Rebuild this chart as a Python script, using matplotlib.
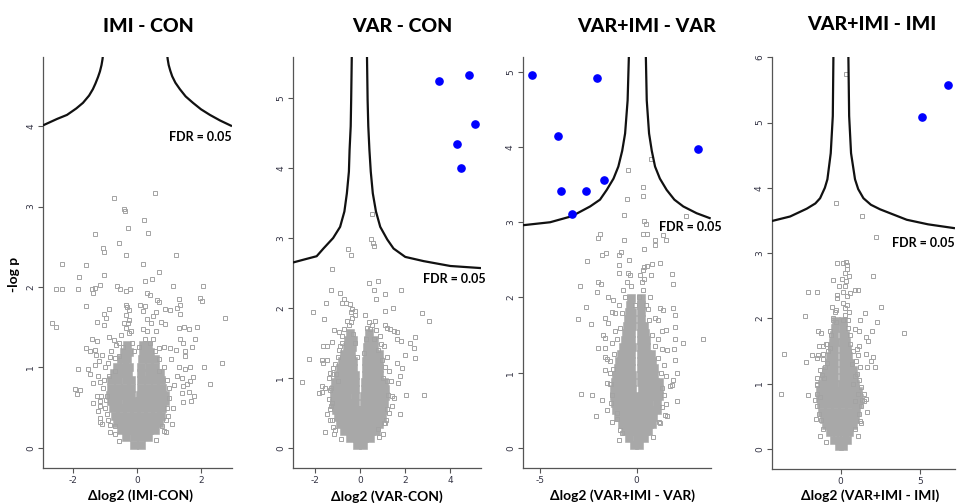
import numpy as np
import matplotlib
matplotlib.use("Agg")
import matplotlib.pyplot as plt

W, H = 957, 503

# ---------------- data ----------------
titles = ["IMI - CON", "VAR - CON", "VAR+IMI - VAR", "VAR+IMI - IMI"]
xlabels = ["Δlog2 (IMI-CON)", "Δlog2 (VAR-CON)", "Δlog2 (VAR+IMI - VAR)", "Δlog2 (VAR+IMI - IMI)"]
xlims = [(-2.94, 2.97), (-2.98, 5.36), (-5.9, 3.83), (-4.35, 7.2)]
ylims = [(-0.25, 4.86), (-0.29, 5.59), (-0.27, 5.2), (-0.31, 6.0)]
xticks = [[-2, 0, 2], [-2, 0, 2, 4], [-5, 0], [0, 5]]
yticks = [[0, 1, 2, 3, 4], [0, 1, 2, 3, 4, 5], [0, 1, 2, 3, 4, 5], [0, 1, 2, 3, 4, 5, 6]]

# scattered (non-significant) proteins
p1_pts = [(-0.72, 3.11), (0.56, 3.17), (-0.41, 2.97), (-0.375, 2.94), (0.22, 2.83), (-0.28, 2.73), (0.34, 2.67),
          (-1.31, 2.66), (-0.56, 2.55), (-1.06, 2.48), (-1.04, 2.44), (-0.36, 2.40), (1.23, 2.40), (-2.34, 2.29),
          (-1.61, 2.28), (0.19, 2.29), (0.68, 2.19), (-1.04, 2.15), (-1.82, 2.12), (0.47, 2.10), (0.26, 2.07),
          (-2.52, 1.98), (-2.34, 1.98), (-1.85, 1.98), (-1.41, 1.98), (-1.30, 1.99), (-1.15, 2.03), (-0.62, 2.01),
          (-0.52, 1.98), (-0.33, 1.95), (-0.23, 1.98), (-1.375, 1.92), (1.125, 2.01), (2.06, 2.01), (0.31, 1.92),
          (0.40, 1.90), (1.98, 1.86), (2.03, 1.83), (0.625, 1.84), (0.70, 1.81), (1.32, 1.85), (1.35, 1.78),
          (1.25, 1.74), (-0.33, 1.78), (-0.31, 1.75), (-0.26, 1.71), (0.10, 1.78), (0.24, 1.77), (-1.61, 1.77),
          (-0.885, 1.73), (-1.04, 1.66), (-0.96, 1.62), (0.885, 1.73), (1.04, 1.72), (1.35, 1.66), (2.76, 1.62),
          (0.60, 1.685), (0.50, 1.64), (-2.66, 1.55), (-2.52, 1.50), (-1.25, 1.57), (-1.04, 1.53), (-0.26, 1.59),
          (-0.28, 1.55), (0.76, 1.56), (0.86, 1.545), (1.30, 1.49), (1.46, 1.50), (1.61, 1.48), (1.875, 1.50),
          (-0.36, 1.49), (-0.26, 1.43), (0.19, 1.48), (0.31, 1.45), (1.35, 1.35), (1.44, 1.30), (-1.41, 1.35),
          (-1.25, 1.325), (-0.885, 1.38), (-0.73, 1.345), (-1.61, 1.24), (-1.46, 1.21), (-1.30, 1.22), (1.04, 1.24),
          (1.23, 1.22), (1.72, 1.25), (1.80, 1.35), (0.68, 1.24), (0.83, 1.25), (1.51, 1.20), (1.51, 1.14),
          (-1.27, 1.15), (-1.20, 1.08), (-1.30, 1.035), (-0.83, 1.13), (-0.68, 1.12), (-0.57, 1.14), (-1.85, 0.98),
          (-1.54, 0.98), (-1.48, 0.92), (-1.22, 0.90), (-0.885, 0.89), (1.30, 1.006), (1.51, 0.98), (1.65, 1.006),
          (2.08, 1.006), (2.66, 1.05), (1.25, 0.90), (1.41, 0.87), (1.75, 0.88), (-1.375, 0.81), (-1.15, 0.82),
          (-1.93, 0.73), (-1.77, 0.72), (-1.875, 0.675), (-1.25, 0.65), (-1.15, 0.58), (-0.94, 0.64), (1.43, 0.77),
          (1.56, 0.79), (1.67, 0.83), (2.29, 0.79), (1.41, 0.68), (1.61, 0.69), (1.77, 0.65), (1.43, 0.57),
          (1.69, 0.58), (-1.375, 0.56), (-1.15, 0.52), (-1.23, 0.455), (-1.17, 0.37), (-1.15, 0.32), (-0.83, 0.29),
          (-0.68, 0.27), (-0.68, 0.17), (0.78, 0.27), (0.83, 0.21), (-1.0, 1.0), (-1.05, 0.75), (-1.0, 0.5),
          (0.95, 0.5), (1.0, 0.75), (1.05, 1.1), (-0.9, 0.35), (0.9, 0.35), (-0.55, 1.3), (0.5, 1.35),
          (-0.45, 1.25), (0.6, 1.45),
          (-0.95, 0.42), (-0.98, 0.6), (-1.02, 0.85), (-0.92, 1.05), (-0.8, 1.2), (-0.65, 1.28), (-0.5, 1.4),
          (-0.42, 1.55), (-0.35, 1.65), (-0.2, 1.45), (-0.15, 1.3), (0.25, 1.35), (0.4, 1.3), (0.55, 1.2),
          (0.7, 1.1), (0.85, 1.0), (0.95, 0.85), (1.0, 0.62), (0.98, 0.4), (0.9, 0.2), (0.6, 0.1), (-0.55, 0.08),
          (-0.85, 0.2), (-1.08, 0.3), (1.1, 0.3), (1.12, 0.5), (-1.12, 0.65), (0.3, 1.6), (0.45, 1.55),
          (0.2, 1.7), (-0.1, 1.2), (0.05, 1.25), (-0.7, 0.95), (0.7, 0.95), (1.15, 0.78), (-1.1, 1.15)]

p2_pts = [(0.52, 3.35), (0.49, 2.98), (0.56, 2.93), (0.62, 2.89), (-0.52, 2.85), (-0.41, 2.76), (-1.26, 2.56),
          (0.41, 2.35), (0.81, 2.38), (-1.29, 2.25), (-0.89, 2.22), (0.62, 2.25), (1.08, 2.2), (0.71, 2.13),
          (1.81, 2.25), (-0.70, 2.13), (-0.81, 2.07), (-0.62, 2.07), (-0.47, 2.06), (-1.51, 2.07), (-2.10, 1.94),
          (-0.37, 1.98), (-0.25, 1.96), (-0.25, 1.90), (-0.4, 1.94), (1.11, 1.96), (1.45, 2.0), (2.74, 1.93),
          (3.04, 1.81), (-1.60, 1.84), (-0.59, 1.82), (-0.41, 1.80), (0.64, 1.81), (0.52, 1.76), (1.11, 1.76),
          (1.19, 1.72), (1.33, 1.70), (1.51, 1.67), (1.63, 1.65), (0.30, 1.71), (0.44, 1.70), (0.71, 1.69),
          (-1.16, 1.68), (-0.96, 1.65), (-0.30, 1.63), (2.41, 1.59), (2.19, 1.5), (2.37, 1.43), (-1.26, 1.51),
          (-1.63, 1.45), (-1.48, 1.46), (1.63, 1.56), (1.81, 1.52), (0.92, 1.48), (1.04, 1.45), (-2.25, 1.27),
          (-1.70, 1.26), (-1.63, 1.21), (-1.45, 1.26), (2.0, 1.32), (2.41, 1.29), (1.63, 1.21), (1.85, 1.14),
          (-1.19, 1.14), (-1.33, 1.07), (-2.59, 0.94), (-1.38, 1.0), (-1.07, 1.05), (1.78, 1.02), (1.70, 0.93),
          (-1.70, 0.88), (-1.56, 0.86), (-1.36, 0.83), (-1.81, 0.78), (-1.70, 0.80), (2.04, 0.76), (2.84, 0.76),
          (1.41, 0.74), (1.51, 0.71), (-1.26, 0.64), (-1.33, 0.56), (1.41, 0.60), (1.78, 0.48), (-1.48, 0.48),
          (-1.33, 0.40), (1.04, 0.36), (1.16, 0.40), (-1.56, 0.22), (-1.16, 0.19), (0.81, 0.27), (-1.0, 1.3),
          (-0.9, 1.45), (1.2, 1.3), (1.3, 1.1), (1.35, 0.95), (-1.4, 0.7), (1.3, 0.5), (-0.8, 1.6), (0.9, 1.6),
          (-1.2, 0.3), (1.0, 0.2),
          (-1.25, 0.4), (-1.3, 0.6), (-1.3, 0.85), (-1.2, 1.05), (-1.1, 1.2), (-0.95, 1.4), (-0.8, 1.5),
          (-0.7, 1.7), (-0.5, 1.75), (-0.25, 1.5), (-0.15, 1.3), (0.15, 1.35), (0.25, 1.55), (0.4, 1.8),
          (0.6, 1.55), (0.8, 1.4), (0.95, 1.25), (1.1, 1.15), (1.2, 0.95), (1.25, 0.75), (1.2, 0.55), (1.1, 0.35),
          (0.85, 0.15), (-0.85, 0.12), (-1.1, 0.25), (0.2, 1.9), (-0.35, 1.85), (1.0, 1.0), (-1.0, 0.95)]

p3_pts = [(0.72, 3.84), (-0.47, 3.69), (0.34, 3.47), (0.34, 3.35), (-0.52, 3.31), (-0.66, 3.09), (0.38, 3.01),
          (0.48, 2.98), (2.55, 3.08), (0.34, 2.85), (0.52, 2.85), (-1.9, 2.85), (-2.02, 2.79), (-0.66, 2.77),
          (0.95, 2.77), (1.38, 2.83), (1.52, 2.76), (0.95, 2.70), (0.38, 2.65), (-2.55, 2.49), (-1.81, 2.57),
          (-1.59, 2.59), (-0.90, 2.57), (-0.83, 2.61), (-0.90, 2.43), (0.52, 2.42), (0.78, 2.44), (1.21, 2.46),
          (-0.90, 2.32), (-0.47, 2.33), (-0.34, 2.30), (0.31, 2.36), (0.72, 2.30), (1.81, 2.31), (1.86, 2.18),
          (-1.98, 2.2), (-1.84, 2.18), (-2.93, 2.15), (-2.07, 2.07), (0.38, 2.24), (0.26, 2.21), (-1.47, 2.0),
          (-1.21, 1.97), (-2.62, 1.87), (-3.02, 1.72), (-2.36, 1.65), (-1.29, 1.81), (-1.12, 1.79), (1.21, 1.86),
          (1.38, 1.84), (1.86, 1.86), (1.98, 1.77), (-1.64, 1.73), (-1.47, 1.66), (0.95, 1.73), (1.12, 1.70),
          (1.98, 1.61), (1.52, 1.57), (1.29, 1.55), (-1.76, 1.5), (-1.64, 1.46), (3.41, 1.45), (2.41, 1.40),
          (1.98, 1.45), (-1.98, 1.33), (-1.64, 1.33), (1.29, 1.31), (1.55, 1.30), (1.93, 1.31), (-1.64, 1.21),
          (-1.55, 1.18), (1.98, 1.17), (-1.64, 1.03), (-1.38, 1.0), (2.07, 1.0), (-1.55, 0.87), (-1.38, 0.85),
          (1.86, 0.90), (1.72, 0.82), (1.81, 0.84), (-2.88, 0.72), (-2.33, 0.71), (-1.81, 0.64), (2.07, 0.63),
          (1.52, 0.58), (-2.1, 0.43), (-1.52, 0.50), (-1.03, 0.46), (-1.03, 0.38), (1.47, 0.44), (1.55, 0.43),
          (1.21, 0.33), (-0.86, 0.24), (-0.78, 0.20), (-1.3, 1.4), (-1.1, 1.55), (1.1, 1.45), (1.4, 1.1),
          (1.5, 0.95), (-1.4, 1.15), (-1.3, 0.7), (1.4, 0.7), (-0.9, 1.9), (0.7, 2.0), (-0.7, 2.1), (0.6, 1.85),
          (-1.3, 0.35), (-1.35, 0.6), (-1.35, 0.85), (-1.25, 1.05), (-1.15, 1.25), (-1.0, 1.45), (-0.85, 1.6),
          (-0.75, 1.8), (-0.6, 2.0), (-0.5, 2.2), (-0.3, 2.15), (-0.1, 1.9), (0.1, 2.0), (0.35, 2.1), (0.5, 1.9),
          (0.65, 1.7), (0.8, 1.5), (0.95, 1.35), (1.1, 1.2), (1.25, 1.0), (1.3, 0.8), (1.3, 0.55), (1.15, 0.35),
          (0.85, 0.15), (-0.9, 0.1), (0.4, 2.4), (-0.4, 2.5), (0.15, 2.3)]

p4_pts = [(0.34, 5.74), (-0.29, 3.76), (1.37, 3.56), (2.23, 3.24), (-0.25, 2.85), (0.17, 2.85), (0.34, 2.86),
          (0.38, 2.82), (0.42, 2.76), (2.06, 2.65), (-0.46, 2.59), (0.34, 2.57), (0.55, 2.65), (0.27, 2.49),
          (-2.08, 2.40), (-1.51, 2.41), (0.17, 2.40), (0.38, 2.34), (0.59, 2.39), (0.90, 2.43), (1.11, 2.44),
          (-0.21, 2.36), (-0.21, 2.31), (0.17, 2.23), (0.27, 2.16), (0.38, 2.21), (2.52, 2.17), (-0.53, 2.17),
          (-0.29, 2.13), (1.53, 2.08), (-2.25, 2.03), (1.22, 1.97), (2.31, 1.95), (-0.46, 1.97), (-0.29, 1.95),
          (0.17, 1.97), (0.44, 1.98), (-1.45, 1.80), (-1.24, 1.78), (0.90, 1.83), (1.18, 1.80), (1.95, 1.80),
          (3.99, 1.78), (1.60, 1.72), (1.74, 1.65), (-1.34, 1.58), (-1.13, 1.58), (-0.84, 1.60), (1.16, 1.57),
          (1.01, 1.53), (-3.57, 1.46), (-1.83, 1.44), (-1.41, 1.44), (-1.47, 1.39), (1.11, 1.44), (1.60, 1.46),
          (2.02, 1.41), (1.89, 1.34), (-2.18, 1.33), (-1.09, 1.37), (-0.88, 1.31), (1.22, 1.26), (1.64, 1.25),
          (2.16, 1.25), (-1.20, 1.13), (-1.05, 1.08), (0.90, 1.12), (1.01, 1.15), (-1.51, 1.08), (-1.47, 0.98),
          (-3.78, 0.84), (-2.08, 0.83), (-1.47, 0.84), (-1.30, 0.80), (1.11, 0.84), (1.47, 0.84), (1.60, 0.76),
          (1.47, 0.73), (0.90, 0.73), (-1.34, 0.54), (-1.24, 0.44), (1.18, 0.54), (1.64, 0.56), (1.22, 0.43),
          (-1.0, 1.25), (0.7, 1.3), (0.8, 1.0), (-1.5, 0.65), (1.3, 0.65), (-0.8, 1.5), (0.6, 1.6), (-0.7, 1.8),
          (0.5, 2.1), (-1.1, 0.3), (0.9, 0.3),
          (-1.55, 0.45), (-1.6, 0.75), (-1.5, 1.0), (-1.3, 1.2), (-1.1, 1.45), (-0.95, 1.6), (-0.7, 1.55),
          (-0.6, 1.75), (-0.5, 2.0), (-0.35, 2.1), (0.3, 2.05), (0.45, 1.85), (0.6, 1.75), (0.8, 1.5),
          (0.95, 1.35), (1.15, 1.05), (1.3, 0.95), (1.35, 0.75), (1.3, 0.4), (1.1, 0.2), (-1.3, 0.2), (-0.9, 0.1),
          (0.1, 2.6), (0.25, 2.7), (-0.1, 2.5)]

# dense core of each cloud: -log p level -> delta log2 values
p1_core = {0.04: [-0.11, 0.11], 0.13: [-0.33, -0.11, 0.11, 0.33],
           0.22: [-0.5, -0.28, -0.06, 0.16, 0.38, 0.55],
           0.31: [-0.62, -0.4, -0.18, 0.04, 0.26, 0.48, 0.68],
           0.40: [-0.7, -0.48, -0.26, -0.04, 0.18, 0.4, 0.62, 0.76],
           0.49: [-0.75, -0.53, -0.31, -0.09, 0.13, 0.35, 0.57, 0.79],
           0.58: [-0.8, -0.58, -0.36, -0.14, 0.1, 0.32, 0.54, 0.76, 0.86],
           0.66: [-0.85, -0.63, -0.41, -0.19, 0.1, 0.32, 0.54, 0.76, 0.88],
           0.75: [-0.82, -0.6, -0.38, -0.2, 0.12, 0.34, 0.56, 0.78],
           0.84: [-0.8, -0.58, -0.36, -0.2, 0.12, 0.34, 0.56, 0.76],
           0.93: [-0.72, -0.5, -0.28, 0.14, 0.36, 0.58, 0.72],
           1.01: [-0.62, -0.42, -0.25, 0.14, 0.36, 0.56],
           1.10: [-0.5, -0.3, 0.16, 0.38, 0.55], 1.19: [-0.4, -0.24, 0.18, 0.4], 1.28: [-0.3, 0.2, 0.34]}

p2_core = {0.04: [-0.12, 0.12], 0.14: [-0.45, -0.15, 0.15, 0.45],
           0.24: [-0.7, -0.4, -0.1, 0.2, 0.5, 0.7],
           0.34: [-0.9, -0.6, -0.3, 0.0, 0.3, 0.6, 0.85],
           0.44: [-1.0, -0.7, -0.4, -0.1, 0.2, 0.5, 0.8, 0.98],
           0.54: [-1.08, -0.78, -0.48, -0.18, 0.12, 0.42, 0.72, 1.0],
           0.64: [-1.15, -0.85, -0.55, -0.25, 0.15, 0.45, 0.75, 1.05],
           0.74: [-1.18, -0.88, -0.58, -0.22, 0.18, 0.48, 0.78, 1.1],
           0.84: [-1.15, -0.85, -0.55, -0.22, 0.2, 0.5, 0.8, 1.08],
           0.94: [-1.1, -0.8, -0.5, -0.24, 0.22, 0.52, 0.82, 1.05],
           1.04: [-1.0, -0.7, -0.4, -0.25, 0.25, 0.55, 0.85],
           1.14: [-0.9, -0.6, -0.32, 0.25, 0.55, 0.85],
           1.24: [-0.8, -0.5, -0.3, 0.28, 0.58, 0.85],
           1.34: [-0.7, -0.42, 0.3, 0.6, 0.85], 1.44: [-0.6, -0.35, 0.32, 0.62],
           1.54: [-0.55, -0.3, 0.35, 0.62], 1.64: [-0.45, 0.4]}

p3_core = {0.04: [-0.14, 0.14], 0.13: [-0.4, 0.0, 0.4],
           0.22: [-0.6, -0.25, 0.1, 0.45, 0.6],
           0.32: [-0.78, -0.42, -0.06, 0.3, 0.66, 0.8],
           0.41: [-0.95, -0.6, -0.24, 0.12, 0.48, 0.85],
           0.50: [-1.05, -0.7, -0.34, 0.02, 0.38, 0.74, 1.05],
           0.60: [-1.12, -0.76, -0.4, -0.04, 0.3, 0.66, 1.05],
           0.69: [-1.15, -0.8, -0.44, -0.1, 0.26, 0.62, 0.98, 1.15],
           0.78: [-1.15, -0.8, -0.44, -0.24, 0.26, 0.62, 0.98, 1.15],
           0.88: [-1.1, -0.76, -0.42, -0.24, 0.24, 0.58, 0.94, 1.15],
           0.97: [-1.05, -0.7, -0.4, -0.24, 0.24, 0.58, 0.92],
           1.06: [-0.98, -0.64, -0.32, 0.24, 0.56, 0.88],
           1.16: [-0.9, -0.56, -0.3, 0.24, 0.56, 0.8],
           1.25: [-0.8, -0.5, -0.28, 0.24, 0.52, 0.72],
           1.34: [-0.72, -0.44, -0.26, 0.24, 0.5], 1.43: [-0.62, -0.3, 0.24, 0.48],
           1.53: [-0.55, -0.28, 0.24, 0.45], 1.62: [-0.5, -0.26, 0.24, 0.4],
           1.71: [-0.45, -0.24, 0.24], 1.81: [-0.4, -0.22, 0.22], 1.90: [-0.35, 0.22],
           1.99: [-0.3, 0.22]}

p4_core = {0.04: [-0.1, 0.15], 0.14: [-0.45, 0.0, 0.4],
           0.25: [-0.7, -0.26, 0.18, 0.55],
           0.36: [-0.9, -0.46, -0.02, 0.42, 0.75],
           0.46: [-1.05, -0.6, -0.16, 0.28, 0.72, 0.9],
           0.57: [-1.15, -0.72, -0.28, 0.16, 0.6, 0.98],
           0.68: [-1.25, -0.8, -0.36, 0.08, 0.52, 0.96, 1.1],
           0.78: [-1.3, -0.86, -0.42, 0.02, 0.46, 0.9, 1.15],
           0.89: [-1.28, -0.84, -0.4, 0.04, 0.48, 0.92, 1.1],
           1.00: [-1.2, -0.76, -0.4, 0.06, 0.5, 0.92],
           1.10: [-1.05, -0.62, -0.4, 0.12, 0.5, 0.85],
           1.21: [-0.9, -0.5, -0.4, 0.12, 0.48, 0.75],
           1.32: [-0.75, -0.4, 0.12, 0.45, 0.6], 1.42: [-0.65, -0.4, 0.12, 0.45],
           1.53: [-0.55, -0.4, 0.12, 0.4], 1.64: [-0.5, -0.38, 0.12, 0.35],
           1.74: [-0.4, 0.12, 0.3], 1.85: [-0.36, 0.12], 1.96: [-0.32, 0.14]}

# significant proteins (blue)
sig_x = [[], [3.50, 4.83, 5.08, 4.30, 4.49],
         [-5.43, -2.07, -4.05, 3.19, -1.67, -3.93, -2.62, -3.36], [6.79, 5.10]]
sig_y = [[], [5.24, 5.33, 4.63, 4.34, 4.00],
         [4.96, 4.92, 4.15, 3.98, 3.56, 3.42, 3.41, 3.11], [5.57, 5.08]]

# FDR = 0.05 threshold curves (left and right branch)
fdr_left = [
    [(-2.94, 4.01), (-2.5, 4.09), (-2.19, 4.14), (-1.9, 4.22), (-1.69, 4.29), (-1.5, 4.38), (-1.38, 4.46),
     (-1.3, 4.53), (-1.22, 4.61), (-1.16, 4.68), (-1.11, 4.76), (-1.08, 4.83), (-1.06, 4.9)],
    [(-2.98, 2.65), (-2.4, 2.7), (-1.93, 2.74), (-1.63, 2.85), (-1.2, 3.0), (-0.89, 3.16), (-0.7, 3.38),
     (-0.59, 3.64), (-0.5, 3.95), (-0.47, 4.26), (-0.42, 4.6), (-0.4, 4.97), (-0.37, 5.65)],
    [(-5.9, 2.96), (-4.48, 3.0), (-3.36, 3.08), (-2.41, 3.21), (-1.9, 3.3), (-1.55, 3.43), (-1.2, 3.58),
     (-0.95, 3.74), (-0.75, 3.95), (-0.6, 4.18), (-0.47, 4.62), (-0.4, 5.25)],
    [(-4.35, 3.49), (-3.19, 3.56), (-2.14, 3.68), (-1.6, 3.76), (-1.30, 3.84), (-1.0, 4.0), (-0.84, 4.13),
     (-0.63, 4.53), (-0.5, 5.10), (-0.46, 6.05)]]
fdr_right = [
    [(0.94, 4.9), (0.96, 4.83), (0.99, 4.76), (1.04, 4.69), (1.1, 4.62), (1.2, 4.54), (1.34, 4.46),
     (1.52, 4.37), (1.75, 4.29), (2.0, 4.21), (2.28, 4.14), (2.6, 4.07), (2.97, 4.0)],
    [(0.30, 5.65), (0.33, 4.97), (0.36, 4.6), (0.41, 4.26), (0.47, 3.95), (0.56, 3.64), (0.7, 3.38),
     (0.89, 3.16), (1.2, 2.98), (1.48, 2.85), (2.0, 2.73), (2.81, 2.67), (4.0, 2.6), (5.36, 2.57)],
    [(0.47, 5.25), (0.52, 4.62), (0.64, 4.18), (0.78, 3.95), (0.95, 3.74), (1.2, 3.58), (1.55, 3.43),
     (1.95, 3.3), (2.41, 3.21), (3.1, 3.12), (3.83, 3.05)],
    [(0.48, 6.05), (0.53, 5.10), (0.65, 4.53), (0.9, 4.13), (1.1, 3.98), (1.43, 3.84), (1.9, 3.74),
     (2.48, 3.67), (4.16, 3.51), (5.5, 3.44), (7.2, 3.38)]]

all_pts = [p1_pts, p2_pts, p3_pts, p4_pts]
all_core = [p1_core, p2_core, p3_core, p4_core]

# ---------------- layout (pixel boxes of the panels) ----------------
boxes = [(43, 232, 57, 468), (293, 481, 57, 468), (522.7, 710.7, 56.7, 468.3), (771.7, 955, 57.3, 469)]
title_pos = [(148, 27), (402, 27), (647, 26), (872, 25)]
xlabel_pos = [(141, 496), (387, 497), (622, 496), (870, 496)]
fdr_pos = [(232, 137, "right"), (486, 279, "right"), (722, 227, "right"), (955, 243, "right")]

GRAY = "#a3a3a3"
AXC = "#555555"
TXT = "Lato"

fig = plt.figure(figsize=(W / 100, H / 100), dpi=100)

for i in range(4):
    x0, x1, y0, y1 = boxes[i]
    ax = fig.add_axes([x0 / W, 1 - y1 / H, (x1 - x0) / W, (y1 - y0) / H])

    # dense core
    for yv, xs in all_core[i].items():
        ax.plot(xs, [yv] * len(xs), "s", ms=5.6, color="#a8a8a8", mec="#a8a8a8", mew=0.4, zorder=1)
    # open squares
    px = [p[0] for p in all_pts[i]]
    py = [p[1] for p in all_pts[i]]
    ax.plot(px, py, "s", ms=3.0, mfc="none", mec=GRAY, mew=0.7, zorder=2)

    # threshold curves
    lx, ly = zip(*fdr_left[i])
    rx, ry = zip(*fdr_right[i])
    ax.plot(lx, ly, color="#111111", lw=1.6, zorder=3, solid_capstyle="butt", solid_joinstyle="round")
    ax.plot(rx, ry, color="#111111", lw=1.6, zorder=3, solid_capstyle="butt", solid_joinstyle="round")

    if sig_x[i]:
        ax.plot(sig_x[i], sig_y[i], "o", ms=5.2, color="#0000ff", mec="#0000ff", zorder=4)

    ax.set_xlim(*xlims[i])
    ax.set_ylim(*ylims[i])
    ax.set_xticks(xticks[i])
    ax.set_yticks(yticks[i])
    ax.set_xticklabels([str(t) for t in xticks[i]])
    ax.set_yticklabels([str(t) for t in yticks[i]], rotation=90, va="center")
    for s in ["top", "right"]:
        ax.spines[s].set_visible(False)
    for s in ["left", "bottom"]:
        ax.spines[s].set_color(AXC)
        ax.spines[s].set_linewidth(0.9)
    ax.tick_params(length=3.5, width=0.8, color=AXC, labelsize=6.5, labelcolor="#333344", pad=2)
    ax.patch.set_alpha(0)

    tx, ty = title_pos[i]
    fig.text(tx / W, 1 - ty / H, titles[i], ha="center", va="center", fontsize=14,
             fontweight="black", family=TXT)
    lx_, ly_ = xlabel_pos[i]
    fig.text(lx_ / W, 1 - ly_ / H, xlabels[i], ha="center", va="center", fontsize=10,
             fontweight="bold", family=TXT)
    fx, fy, ha = fdr_pos[i]
    fig.text(fx / W, 1 - fy / H, "FDR = 0.05", ha=ha, va="center", fontsize=9,
             fontweight="bold", family=TXT)

fig.text(14 / W, 1 - 274 / H, "-log p", rotation=90, ha="center", va="center", fontsize=10,
         fontweight="bold", family=TXT)

fig.savefig("out.png", dpi=100)
